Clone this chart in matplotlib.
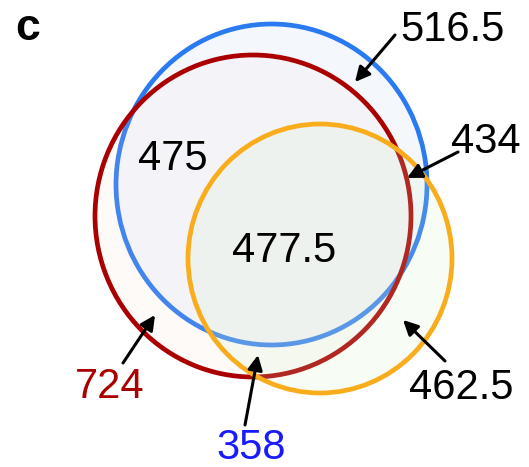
import matplotlib
matplotlib.use("Agg")
import matplotlib.pyplot as plt
from matplotlib.patches import Ellipse

plt.rcParams['font.family'] = ['Liberation Sans', 'DejaVu Sans']

# Region values
region_values = ["516.5", "434", "475", "477.5", "724", "358", "462.5"]
region_colors = ["black", "black", "black", "black", "#aa0000", "#1a1aff", "black"]

# Set outlines (center x, center y, width, height) in pixel space
set_names = ["blue", "red", "orange"]
set_geom = [(271.5, 184.5, 311, 321), (253, 216, 316, 322), (320, 258.5, 264, 269)]
set_edge = ["#2a7af2", "#aa0000", "#f9ad1c"]
set_fill = [((0.957, 0.973, 0.992), 1.0), ((0.96, 0.84, 0.80), 0.12), ((0.82, 0.94, 0.78), 0.17)]

# Label placements: text center and arrow head (None = no arrow)
label_pos = [(452, 30), (486, 142), (173, 159), (284, 251), (110, 387), (251, 448), (461, 388)]
arrow_tail = [(395, 35), (458, 152), None, None, (123, 363), (245, 425), (445, 361)]
arrow_head = [(355, 82), (407, 178), None, None, (155, 315), (258, 355), (403, 320)]

fig = plt.figure(figsize=(5.29, 4.67), dpi=100)
ax = fig.add_axes([0, 0, 1, 1])
ax.set_xlim(0, 529)
ax.set_ylim(467, 0)
ax.axis('off')

z = 1
for (cx, cy, w, h), ec, (fc, a) in zip(set_geom, set_edge, set_fill):
    ax.add_patch(Ellipse((cx, cy), w, h, facecolor=fc, alpha=a, edgecolor='none', zorder=z))
    ax.add_patch(Ellipse((cx, cy), w, h, facecolor='none', edgecolor=ec, lw=3.4, zorder=z + 0.5))
    z += 1

for txt, col, pos, tail, head in zip(region_values, region_colors, label_pos, arrow_tail, arrow_head):
    ax.text(pos[0], pos[1], txt, color=col, fontsize=30, ha='center', va='center', zorder=10)
    if tail is not None:
        ax.annotate("", xy=head, xytext=tail,
                    arrowprops=dict(arrowstyle='-|>', color='black', lw=2.2,
                                    mutation_scale=22, shrinkA=0, shrinkB=0),
                    zorder=10)

ax.text(28, 28, "c", fontsize=32, fontweight='bold', ha='center', va='center', zorder=10)

fig.savefig("out.png", dpi=100)
